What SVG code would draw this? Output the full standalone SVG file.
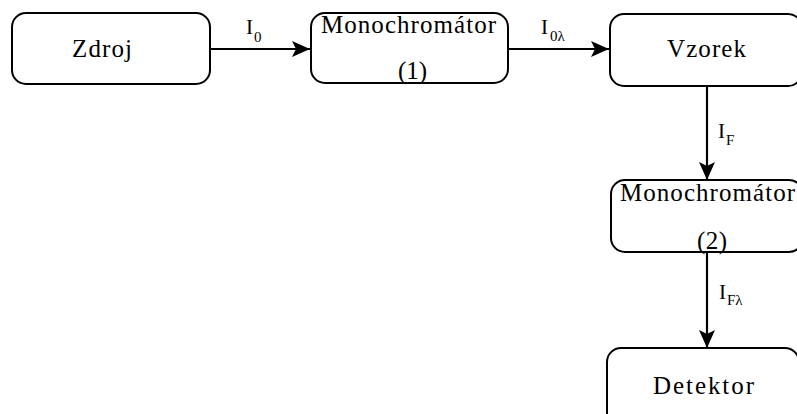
<svg xmlns="http://www.w3.org/2000/svg" width="797" height="414" viewBox="0 0 797 414">
<style>
.box{fill:#fff;stroke:#000;stroke-width:2}
text{font-family:'Liberation Serif',serif;fill:#000}
.t{font-size:25px}
.i{font-size:21px}
.s{font-size:15px}
.c{stroke:#000;stroke-width:2.2;fill:none}
</style>
<defs>
<marker id="ah" markerWidth="19" markerHeight="16" refX="18" refY="8" orient="auto" markerUnits="userSpaceOnUse">
<path d="M0,0 L18,8 L0,16 L4,8 Z" fill="#000"/>
</marker>
</defs>
<g id="connectors">
<line class="c" x1="210" y1="49" x2="310" y2="49" marker-end="url(#ah)"/>
<line class="c" x1="508" y1="49" x2="609" y2="49" marker-end="url(#ah)"/>
<line class="c" x1="707" y1="86" x2="707" y2="180" marker-end="url(#ah)"/>
<line class="c" x1="707" y1="252" x2="707" y2="348" marker-end="url(#ah)"/>
<text class="i" x="246" y="34">I</text><text class="s" x="254" y="42">0</text>
<text class="i" x="541" y="34">I</text><text class="s" x="550" y="41">0λ</text>
<text class="i" x="718" y="138">I</text><text class="s" x="726" y="145">F</text>
<text class="i" x="719" y="299">I</text><text class="s" x="727" y="305">Fλ</text>
</g>
<g id="zdroj">
<rect class="box" x="12" y="13" width="198" height="71" rx="14"/>
<text class="t" x="72" y="57" textLength="60" lengthAdjust="spacing">Zdroj</text>
</g>
<g id="mono1">
<rect class="box" x="311" y="13" width="197" height="70" rx="14"/>
<text class="t" x="321" y="33" textLength="175" lengthAdjust="spacing">Monochromátor</text>
<text class="t" x="398" y="79" textLength="29" lengthAdjust="spacing">(1)</text>
</g>
<g id="vzorek">
<rect class="box" x="610" y="14" width="192" height="72" rx="14"/>
<text class="t" x="667" y="57" textLength="79" lengthAdjust="spacing">Vzorek</text>
</g>
<g id="mono2">
<rect class="box" x="611" y="180" width="192" height="72" rx="14"/>
<text class="t" x="620" y="201" textLength="175" lengthAdjust="spacing">Monochromátor</text>
<text class="t" x="697" y="249" textLength="30" lengthAdjust="spacing">(2)</text>
</g>
<g id="detektor">
<rect class="box" x="607" y="348" width="192" height="80" rx="14"/>
<text class="t" x="653" y="394" textLength="101" lengthAdjust="spacing">Detektor</text>
</g>
</svg>
